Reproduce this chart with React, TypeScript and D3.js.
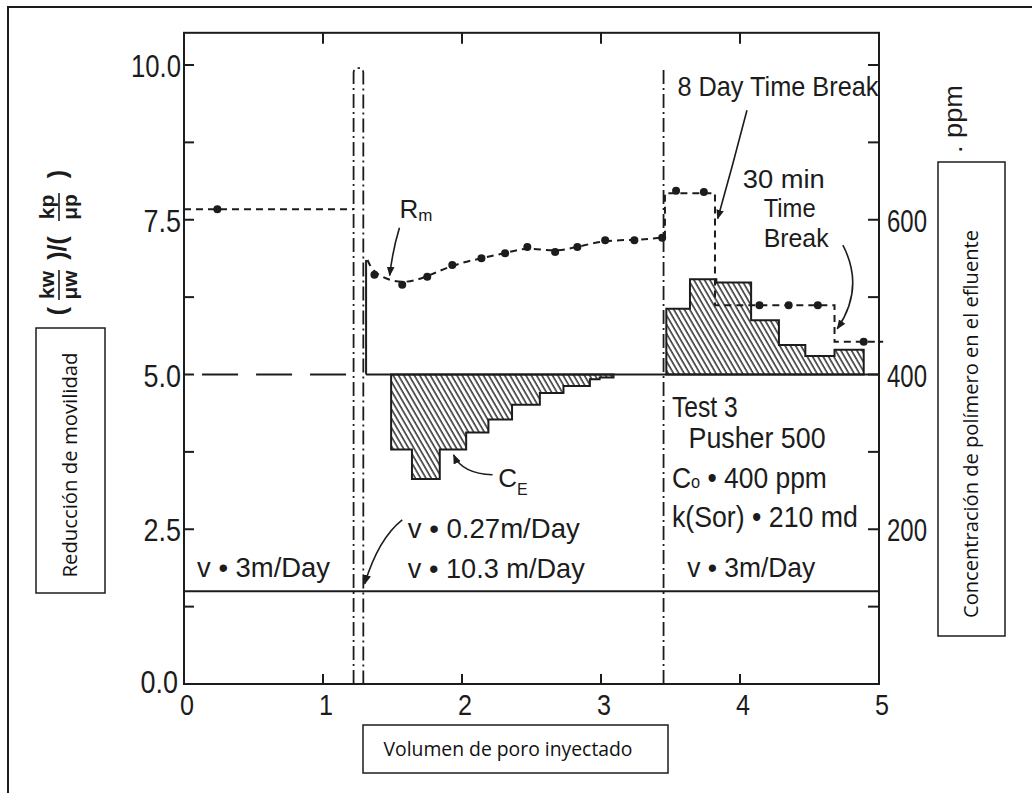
import React from 'react';
import * as d3 from 'd3';

// axes
const xTickValues = [0, 1, 2, 3, 4, 5];
const leftTickValues = [0, 2.5, 5, 7.5, 10];
const leftTickLabels = ['0.0', '2.5', '5.0', '7.5', '10.0'];
const leftMinorTicks = [1.25, 3.75, 6.25, 8.75];
const rightTickValues = [100, 200, 300, 400, 500, 600, 700, 800];
const rightTickLabels = [200, 400, 600];

// mobility reduction Rm (left axis units)
const rmFirstX = [0, 1.22];
const rmFirstV = [7.67, 7.67];
const rmFirstDotX = [0.24];
const rmFirstDotV = [7.67];
const rmStart = [1.32, 6.85];
const rmDotX = [1.37, 1.57, 1.75, 1.93, 2.14, 2.31, 2.47, 2.67, 2.83, 3.03, 3.24, 3.44];
const rmDotV = [6.61, 6.45, 6.58, 6.77, 6.88, 6.96, 7.06, 6.98, 7.06, 7.17, 7.17, 7.21];
const rmStepX = [3.46, 3.46, 3.82, 4.68, 5.03];
const rmStepV = [7.21, 7.93, 6.12, 5.53, 5.53];
const rmStepDotX = [3.54, 3.74, 4.14, 4.35, 4.56, 4.89];
const rmStepDotV = [7.97, 7.95, 6.12, 6.12, 6.12, 5.53];

// effluent concentration CE (ppm), step edges
const ceLeftX = [1.49, 1.64, 1.84, 2.03, 2.19, 2.36, 2.56, 2.73, 2.92, 2.99, 3.09];
const ceLeftPpm = [303, 265, 303, 325, 342, 361, 376, 385, 394, 396];
const ceRightX = [3.47, 3.64, 3.83, 4.08, 4.28, 4.47, 4.68, 4.89];
const ceRightPpm = [485, 523, 519, 470, 438, 424, 432];
const injectedPpm = 400;

// breaks and reference lines
const spikeX = [1.22, 1.29];
const spikeTop = 9.95;
const testBreakX = 3.45;
const testBreakTop = 9.95;
const dividerV = 1.5;
const preBaseX = [0.13, 1.2];
const baseX = [1.31, 5.0];

const SCAN = "'Liberation Sans',Arial,sans-serif";
const LABEL = "'Open Sans','Noto Sans',sans-serif";
const ink = '#1c1c1c';

// text squeezed to a given width, like the narrow type of the scan
function T(props: { x: number; y: number; w: number; size: number; anchor?: string; transform?: string; children: React.ReactNode }) {
  const { x, y, w, size, anchor, transform, children } = props;
  return (
    <text x={x} y={y} fontSize={size} textAnchor={anchor || 'start'} textLength={w} lengthAdjust="spacingAndGlyphs" transform={transform}>
      {children}
    </text>
  );
}

export default function App() {
  const x = d3.scaleLinear().domain([0, 5]).range([184, 879]);
  const y = d3.scaleLinear().domain([0, 10]).range([684, 65]);
  const yPpm = d3.scaleLinear().domain([0, 800]).range([684, 65]);
  const yTop = y(10.52);

  const straight = d3.line<number[]>().x(d => x(d[0])).y(d => y(d[1]));
  const step = d3.line<number[]>().x(d => x(d[0])).y(d => y(d[1])).curve(d3.curveStepAfter);
  const smooth = d3.line<number[]>().x(d => x(d[0])).y(d => y(d[1])).curve(d3.curveBasis);
  const ceArea = d3.area<number[]>()
    .x(d => x(d[0]))
    .y0(yPpm(injectedPpm))
    .y1(d => yPpm(d[1]))
    .curve(d3.curveStepAfter);

  const stepPts = (xs: number[], vs: number[]) =>
    xs.map((xv, i) => [xv, vs[Math.min(i, vs.length - 1)]]);

  const rmCurve = [rmStart, ...rmDotX.map((xv, i) => [xv, rmDotV[i]])];
  const rmStep = rmStepX.map((xv, i) => [xv, rmStepV[i]]);

  const spikePath = () => {
    const x1 = x(spikeX[0]), x2 = x(spikeX[1]), yt = y(spikeTop), y0 = y(0);
    const xm = (x1 + x2) / 2;
    return `M${x1},${y0}L${x1},${yt + 5}Q${x1},${yt} ${xm},${yt}Q${x2},${yt} ${x2},${yt + 5}L${x2},${y0}`;
  };

  const dashDot = '14 4 2 4';
  const quad = (a: number[], c: number[], b: number[]) =>
    `M${x(a[0])},${y(a[1])}Q${x(c[0])},${y(c[1])} ${x(b[0])},${y(b[1])}`;

  return (
    <svg width={1032} height={793} style={{ position: 'absolute', left: 0, top: 0, background: '#fff' }}>
      <defs>
        <pattern id="hatch" width="4.6" height="10" patternUnits="userSpaceOnUse" patternTransform="rotate(-30)">
          <line x1="1" y1="0" x2="1" y2="10" stroke={ink} strokeWidth="1.4" />
        </pattern>
        <marker id="arrow" viewBox="0 0 10 10" refX="9" refY="5" markerWidth="6" markerHeight="6" orient="auto">
          <path d="M0,1L10,5L0,9Z" fill={ink} />
        </marker>
      </defs>

      {/* outer border */}
      <rect x={8} y={7} width={1040} height={810} fill="none" stroke={ink} strokeWidth={2} />

      {/* CE hatched areas */}
      <path d={ceArea(stepPts(ceLeftX, ceLeftPpm)) || ''} fill="url(#hatch)" stroke={ink} strokeWidth={2} />
      <path d={ceArea(stepPts(ceRightX, ceRightPpm)) || ''} fill="url(#hatch)" stroke={ink} strokeWidth={2} />

      {/* frame */}
      <g stroke={ink} strokeWidth={2} fill="none">
        <rect x={x(0)} y={yTop} width={x(5) - x(0)} height={y(0) - yTop} />
        {xTickValues.slice(1, -1).map(t => (
          <g key={'xt' + t}>
            <line x1={x(t)} x2={x(t)} y1={y(0)} y2={y(0) - 10} />
            <line x1={x(t)} x2={x(t)} y1={yTop} y2={yTop + 11} />
          </g>
        ))}
        {[...leftTickValues, ...leftMinorTicks].map(t => (
          <line key={'lt' + t} x1={x(0)} x2={x(0) + 10} y1={y(t)} y2={y(t)} />
        ))}
        {rightTickValues.map(t => (
          <line key={'rt' + t} x1={x(5)} x2={x(5) - 11} y1={yPpm(t)} y2={yPpm(t)} />
        ))}
      </g>

      {/* reference lines */}
      <g stroke={ink} fill="none">
        <line x1={x(0)} x2={x(5)} y1={y(dividerV)} y2={y(dividerV)} strokeWidth={2} />
        <line x1={x(preBaseX[0])} x2={x(preBaseX[1])} y1={y(5)} y2={y(5)} strokeWidth={2} strokeDasharray="36 18" />
        <line x1={x(baseX[0])} x2={x(baseX[1])} y1={yPpm(injectedPpm)} y2={yPpm(injectedPpm)} strokeWidth={2} />
        <line x1={x(baseX[0])} x2={x(baseX[0])} y1={y(5)} y2={y(rmStart[1])} strokeWidth={2} />
        <path d={spikePath()} strokeWidth={1.8} strokeDasharray={dashDot} />
        <line x1={x(testBreakX)} x2={x(testBreakX)} y1={y(0)} y2={y(testBreakTop)} strokeWidth={1.8} strokeDasharray={dashDot} />
      </g>

      {/* Rm */}
      <g stroke={ink} fill="none" strokeWidth={2} strokeDasharray="7 5">
        <path d={straight(rmFirstX.map((xv, i) => [xv, rmFirstV[i]])) || ''} />
        <path d={smooth(rmCurve) || ''} />
        <path d={step(rmStep) || ''} />
      </g>
      <g fill={ink}>
        {rmFirstDotX.map((xv, i) => <circle key={'a' + i} cx={x(xv)} cy={y(rmFirstDotV[i])} r={4} />)}
        {rmDotX.map((xv, i) => <circle key={'b' + i} cx={x(xv)} cy={y(rmDotV[i])} r={4} />)}
        {rmStepDotX.map((xv, i) => <circle key={'c' + i} cx={x(xv)} cy={y(rmStepDotV[i])} r={4} />)}
      </g>

      {/* leaders */}
      <g stroke={ink} fill="none" strokeWidth={1.6}>
        <path d={quad([1.55, 7.37], [1.5, 7.0], [1.48, 6.6])} markerEnd="url(#arrow)" />
        <path d={quad([2.22, 3.38], [2.0, 3.4], [1.94, 3.7])} markerEnd="url(#arrow)" />
        <path d={quad([1.57, 2.65], [1.4, 2.35], [1.3, 1.62])} markerEnd="url(#arrow)" />
        <path d={quad([4.05, 9.27], [3.95, 8.4], [3.84, 7.52])} markerEnd="url(#arrow)" />
        <path d={quad([4.74, 7.09], [4.9, 6.4], [4.7, 5.74])} markerEnd="url(#arrow)" />
      </g>

      {/* tick labels */}
      <g fontFamily={SCAN} fill={ink}>
        {xTickValues.map(t => (
          <T key={'xl' + t} x={x(t) + 3} y={715} size={29} w={14} anchor="middle">{t}</T>
        ))}
        {leftTickValues.map((t, i) => (
          <T key={'ll' + t} x={x(0) - (t === 0 ? 6 : 3)} y={y(t) + (t === 0 ? 9 : 12)} size={32} w={leftTickLabels[i].length * 12.5} anchor="end">{leftTickLabels[i]}</T>
        ))}
        {rightTickLabels.map(t => (
          <T key={'rl' + t} x={x(5) + 8} y={yPpm(t) + 12} size={32} w={40}>{t}</T>
        ))}
        <T x={0} y={0} size={26} w={68} transform="translate(962,153) rotate(-90)">. ppm</T>
      </g>

      {/* annotations */}
      <g fontFamily={SCAN} fill={ink}>
        <T x={x(0.094)} y={y(1.73)} size={28} w={133}>v • 3m/Day</T>
        <T x={x(1.61)} y={y(2.36)} size={28} w={172}>v • 0.27m/Day</T>
        <T x={x(1.61)} y={y(1.71)} size={28} w={177}>v • 10.3 m/Day</T>
        <T x={x(3.62)} y={y(1.73)} size={28} w={128}>v • 3m/Day</T>
        <T x={x(3.51)} y={y(4.31)} size={29} w={66}>Test 3</T>
        <T x={x(3.63)} y={y(3.81)} size={29} w={137}>Pusher 500</T>
        <T x={x(3.51)} y={y(3.17)} size={29} w={155}>C<tspan fontSize={18}>o</tspan> • 400 ppm</T>
        <T x={x(3.51)} y={y(2.54)} size={29} w={186}>k(Sor) • 210 md</T>
        <T x={x(3.55)} y={y(9.5)} size={28} w={201}>8 Day Time Break</T>
        <T x={x(4.02)} y={y(8.01)} size={26} w={82}>30 min</T>
        <T x={x(4.17)} y={y(7.54)} size={26} w={52}>Time</T>
        <T x={x(4.17)} y={y(7.06)} size={26} w={65}>Break</T>
        <text x={x(1.55)} y={y(7.53)} fontSize={26}>R<tspan fontSize={17} dy={3}>m</tspan></text>
        <text x={x(2.26)} y={y(3.18)} fontSize={26}>C<tspan fontSize={16} dy={8}>E</tspan></text>
      </g>

      {/* y title (kw/μw)/(kp/μp) */}
      <g transform="translate(60,245) rotate(-90)" fontFamily="'Liberation Sans',sans-serif" fontWeight="bold" fill={ink} fontSize={21} textAnchor="middle">
        <text x={-66} y={6} fontSize={25}>(</text>
        <text x={-40} y={-6}>kw</text>
        <line x1={-55} x2={-25} y1={-1} y2={-1} stroke={ink} strokeWidth={1.6} />
        <text x={-40} y={17}>μw</text>
        <text x={-3} y={6} fontSize={25}>)/(</text>
        <text x={38} y={-6}>kp</text>
        <line x1={24} x2={52} y1={-1} y2={-1} stroke={ink} strokeWidth={1.6} />
        <text x={38} y={17}>μp</text>
        <text x={71} y={6} fontSize={25}>)</text>
      </g>

      {/* label boxes */}
      <g fill="none" stroke={ink} strokeWidth={1.5}>
        <rect x={36} y={328} width={69} height={265} />
        <rect x={363} y={725} width={305} height={48} />
        <rect x={938} y={162} width={67} height={474} />
      </g>
      <g fontFamily={LABEL} fill="#111">
        <T x={0} y={0} size={20} w={225} anchor="middle" transform="translate(77,465) rotate(-90)">Reducción de movilidad</T>
        <T x={508} y={756} size={20} w={249} anchor="middle">Volumen de poro inyectado</T>
        <T x={0} y={0} size={20} w={388} anchor="middle" transform="translate(978,424) rotate(-90)">Concentración de polímero en el efluente</T>
      </g>
    </svg>
  );
}
